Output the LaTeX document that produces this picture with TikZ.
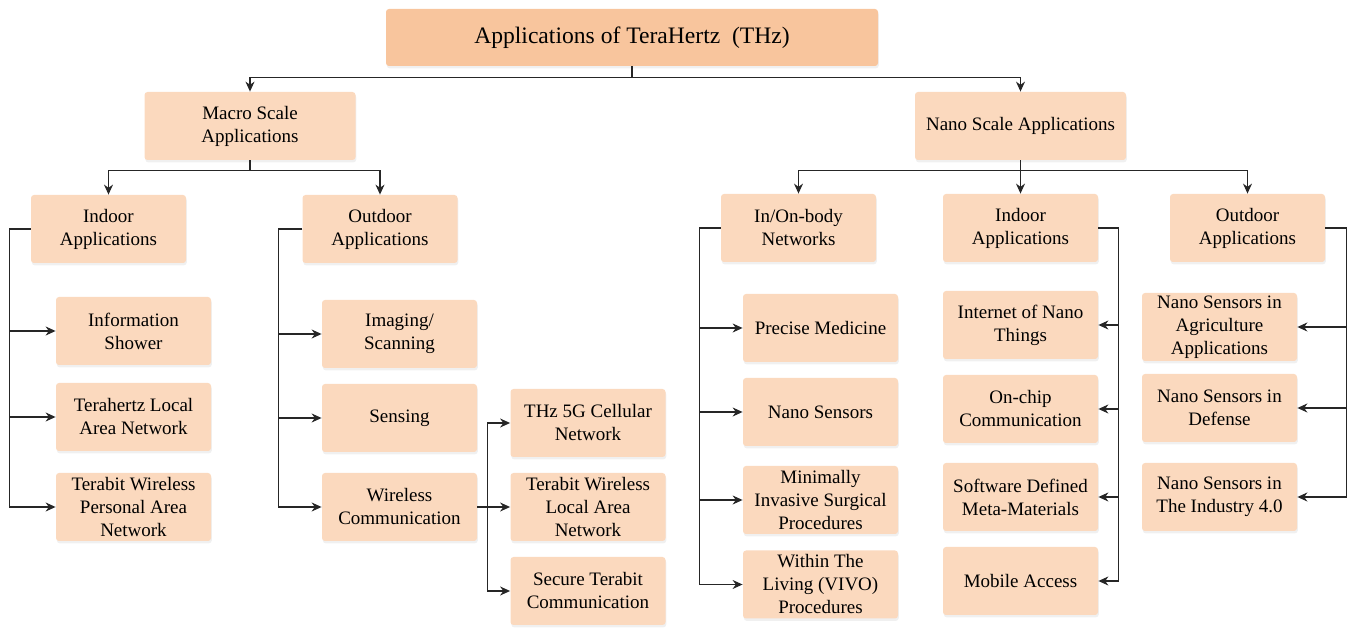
\documentclass[tikz,border=0pt]{standalone}
\usepackage{fontspec}
\setmainfont{Liberation Serif}
\usetikzlibrary{arrows.meta,shadows}

\definecolor{rootfill}{RGB}{248,197,157}
\definecolor{boxfill}{RGB}{251,217,190}

\begin{document}
\begin{tikzpicture}[
    x=0.5pt, y=-0.5pt,
    block/.style={%
      fill=boxfill,
      rounded corners=1.5pt,
      align=center,
      minimum width=77.5pt,
      minimum height=34pt,
      inner sep=1pt,
      font=\fontsize{9.5}{11.5}\selectfont,
      drop shadow={shadow xshift=0.4pt, shadow yshift=-1.2pt, opacity=0.12},
    },
    wideblock/.style={%
      block,
      minimum width=105.5pt,
    },
    rootblock/.style={%
      block,
      fill=rootfill,
      minimum width=246pt,
      minimum height=28.5pt,
      font=\fontsize{11.8}{14}\selectfont,
    },
    link/.style={%
      draw=black!85,
      line width=0.6pt,
      -{Stealth[length=5pt,width=4.5pt]},
    },
  ]

    \useasboundingbox (0,0) rectangle (1351,630);

    \node [rootblock] (root) at (632,37.5) {Applications of TeraHertz~~(THz)};
    \path (root) ++(-382,88.5) node [wideblock] (macro) {Macro Scale\\Applications};
    \path (root) ++(388.5,88.5) node [wideblock] (nano) {Nano Scale Applications};

    % macro scale branch
    \path (macro) ++(-141.5,103) node [block] (lin) {Indoor\\Applications};
    \path (macro) ++(130,103) node [block] (lout) {Outdoor\\Applications};

    \path (lin) ++(25,102) node [block] (info) {Information\\Shower};
    \path (lin) ++(25,188) node [block] (thzlan) {Terahertz Local\\Area Network};
    \path (lin) ++(25,278) node [block] (tbpan) {Terabit Wireless\\Personal Area\\Network};

    \path (lout) ++(19.5,105) node [block] (imaging) {Imaging/\\Scanning};
    \path (lout) ++(19.5,189) node [block] (sensing) {Sensing};
    \path (lout) ++(19.5,278) node [block] (wireless) {Wireless\\Communication};

    \path (wireless) ++(188.5,-84) node [block] (cell) {THz 5G Cellular\\Network};
    \path (wireless) ++(188.5,0) node [block] (tbwlan) {Terabit Wireless\\Local Area\\Network};
    \path (wireless) ++(188.5,84) node [block] (secure) {Secure Terabit\\Communication};

    % nano scale branch
    \path (nano) ++(-222,102) node [block] (body) {In/On-body\\Networks};
    \path (nano) ++(0,102) node [block] (nin) {Indoor\\Applications};
    \path (nano) ++(227,102) node [block] (nout) {Outdoor\\Applications};

    \path (body) ++(22,100) node [block] (medicine) {Precise Medicine};
    \path (body) ++(22,184) node [block] (nsensors) {Nano Sensors};
    \path (body) ++(22,272) node [block] (surgical) {Minimally\\Invasive Surgical\\Procedures};
    \path (body) ++(22,356.5) node [block] (vivo) {Within The\\Living (VIVO)\\Procedures};

    \path (nin) ++(0,97) node [block] (iont) {Internet of Nano\\Things};
    \path (nin) ++(0,181) node [block] (onchip) {On-chip\\Communication};
    \path (nin) ++(0,269) node [block] (meta) {Software Defined\\Meta-Materials};
    \path (nin) ++(0,353) node [block] (mobile) {Mobile Access};

    \path (nout) ++(-28,99) node [block] (agri) {Nano Sensors in\\Agriculture\\Applications};
    \path (nout) ++(-28,180) node [block] (defense) {Nano Sensors in\\Defense};
    \path (nout) ++(-28,269) node [block] (industry) {Nano Sensors in\\The Industry 4.0};

    \draw [link] (root.south) -- ++(0,11) -| (macro.north);
    \draw [link] (root.south) -- ++(0,11) -| (nano.north);

    \draw [link] (macro.south) -- ++(0,10) -| (lin.north);
    \draw [link] (macro.south) -- ++(0,10) -| (lout.north);

    \draw [link] (lin.west) -- ++(-21,0) |- (info.west);
    \draw [link] (lin.west) -- ++(-21,0) |- (thzlan.west);
    \draw [link] (lin.west) -- ++(-21,0) |- (tbpan.west);

    \draw [link] (lout.west) -- ++(-23.5,0) |- (imaging.west);
    \draw [link] (lout.west) -- ++(-23.5,0) |- (sensing.west);
    \draw [link] (lout.west) -- ++(-23.5,0) |- (wireless.west);

    \draw [link] (wireless.east) -- ++(10,0) |- (cell.west);
    \draw [link] (wireless.east) -- ++(10,0) |- (tbwlan.west);
    \draw [link] (wireless.east) -- ++(10,0) |- (secure.west);

    \draw [link] (nano.south) -- ++(0,10) -| (body.north);
    \draw [link] (nano.south) -- (nin.north);
    \draw [link] (nano.south) -- ++(0,10) -| (nout.north);

    \draw [link] (body.west) -- ++(-21,0) |- (medicine.west);
    \draw [link] (body.west) -- ++(-21,0) |- (nsensors.west);
    \draw [link] (body.west) -- ++(-21,0) |- (surgical.west);
    \draw [link] (body.west) -- ++(-21,0) |- (vivo.west);

    \draw [link] (nin.east) -- ++(20,0) |- (iont.east);
    \draw [link] (nin.east) -- ++(20,0) |- (onchip.east);
    \draw [link] (nin.east) -- ++(20,0) |- (meta.east);
    \draw [link] (nin.east) -- ++(20,0) |- (mobile.east);

    \draw [link] (nout.east) -- ++(21,0) |- (agri.east);
    \draw [link] (nout.east) -- ++(21,0) |- (defense.east);
    \draw [link] (nout.east) -- ++(21,0) |- (industry.east);
\end{tikzpicture}
\end{document}
